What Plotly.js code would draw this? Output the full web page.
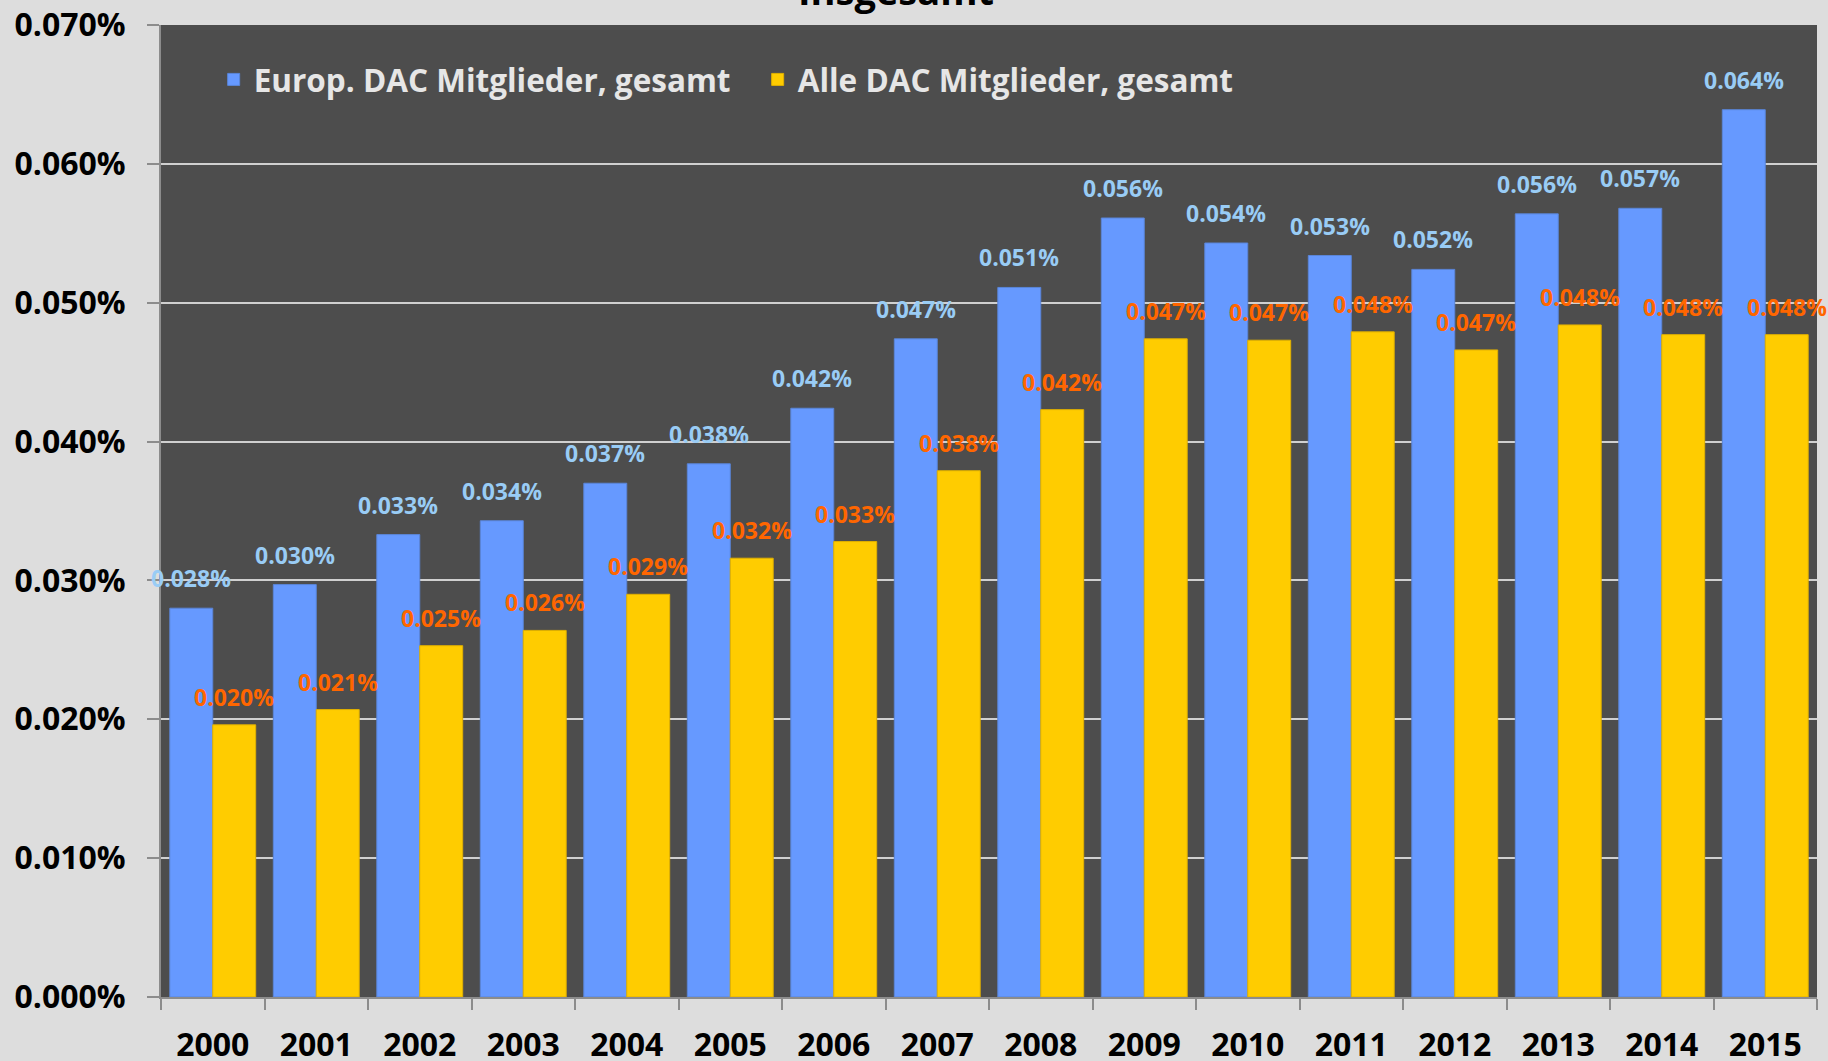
<!DOCTYPE html>
<html>
<head>
<meta charset="utf-8">
<script src="https://cdn.plot.ly/plotly-3.0.1.min.js"></script>
<style>
html,body{margin:0;padding:0;background:#dddddd;}
#chart{width:1828px;height:1061px;}
</style>
</head>
<body>
<div id="chart"></div>
<script>
const years = ['2000','2001','2002','2003','2004','2005','2006','2007','2008','2009','2010','2011','2012','2013','2014','2015'];
const europDAC = [0.0280,0.0297,0.0333,0.0343,0.0370,0.0384,0.0424,0.0474,0.0511,0.0561,0.0543,0.0534,0.0524,0.0564,0.0568,0.0639];
const alleDAC  = [0.0196,0.0207,0.0253,0.0264,0.0290,0.0316,0.0328,0.0379,0.0423,0.0474,0.0473,0.0479,0.0466,0.0484,0.0477,0.0477];
const seriesNames = ['Europ. DAC Mitglieder, gesamt','Alle DAC Mitglieder, gesamt'];
const yTickVals = [0,0.01,0.02,0.03,0.04,0.05,0.06,0.07];
const titleText = 'Insgesamt';

const W = 1828, H = 1061;
const margin = {l:161, r:11, t:25, b:64};
const bargap = 0.17;
const plotW = W - margin.l - margin.r;
const halfBar = plotW / years.length * (1 - bargap) / 4;
const FONT = 'Open Sans, Noto Sans, sans-serif';
const fmt = v => v.toFixed(3) + '%';

const traces = [
  {type:'bar', name:seriesNames[0], x:years, y:europDAC,
   marker:{color:'#6699ff', line:{color:'#5a85d8', width:1}}, hoverinfo:'x+y'},
  {type:'bar', name:seriesNames[1], x:years, y:alleDAC,
   marker:{color:'#ffcc00', line:{color:'#e0b000', width:1}}, hoverinfo:'x+y'}
];

const annotations = [];
years.forEach((yr,i)=>{
  // category axes take the serial number of the category
  annotations.push({x:i, y:europDAC[i], xref:'x', yref:'y', text:fmt(europDAC[i]),
    showarrow:false, xshift:-halfBar, yshift:12, yanchor:'bottom', xanchor:'center',
    font:{family:FONT, size:23, color:'#99ccf5', weight:700}});
  annotations.push({x:i, y:alleDAC[i], xref:'x', yref:'y', text:fmt(alleDAC[i]),
    showarrow:false, xshift:halfBar, yshift:10, yanchor:'bottom', xanchor:'center',
    font:{family:FONT, size:23, color:'#ff6600', weight:700}});
});
annotations.push({xref:'paper', yref:'paper', x:0.444, y:1.007, xanchor:'center', yanchor:'bottom',
  text:titleText, showarrow:false, font:{family:FONT, size:38, color:'#000000', weight:700}});

const layout = {
  width:W, height:H,
  margin:margin,
  paper_bgcolor:'#dddddd',
  plot_bgcolor:'#4d4d4d',
  barmode:'group',
  bargap:bargap,
  bargroupgap:0,
  showlegend:true,
  legend:{orientation:'h', x:0.0318, y:0.944, xanchor:'left', yanchor:'middle',
    bgcolor:'rgba(0,0,0,0)', font:{family:FONT, size:31.5, color:'#e6e6e6', weight:700},
    entrywidth:499, entrywidthmode:'pixels', traceorder:'normal'},
  xaxis:{type:'category', range:[-0.5, years.length-0.5], showgrid:false, ticks:'outside', tickson:'boundaries',
    ticklen:11, tickwidth:2, tickcolor:'#8c8c8c', showline:true, linecolor:'#8c8c8c', linewidth:2,
    ticklabelstandoff:19, tickangle:0,
    tickfont:{family:FONT, size:32, color:'#000000', weight:700}},
  yaxis:{range:[0,0.07], tickmode:'array', tickvals:yTickVals, ticktext:yTickVals.map(fmt),
    showgrid:true, gridcolor:'#d0d0d0', gridwidth:2, zeroline:false,
    ticks:'outside', ticklen:12, tickwidth:2, tickcolor:'#8c8c8c',
    showline:true, linecolor:'#8c8c8c', linewidth:2, ticklabelstandoff:15,
    tickfont:{family:FONT, size:32, color:'#000000', weight:700}},
  annotations:annotations
};

Plotly.newPlot('chart', traces, layout, {displayModeBar:false, staticPlot:true});
</script>
</body>
</html>
